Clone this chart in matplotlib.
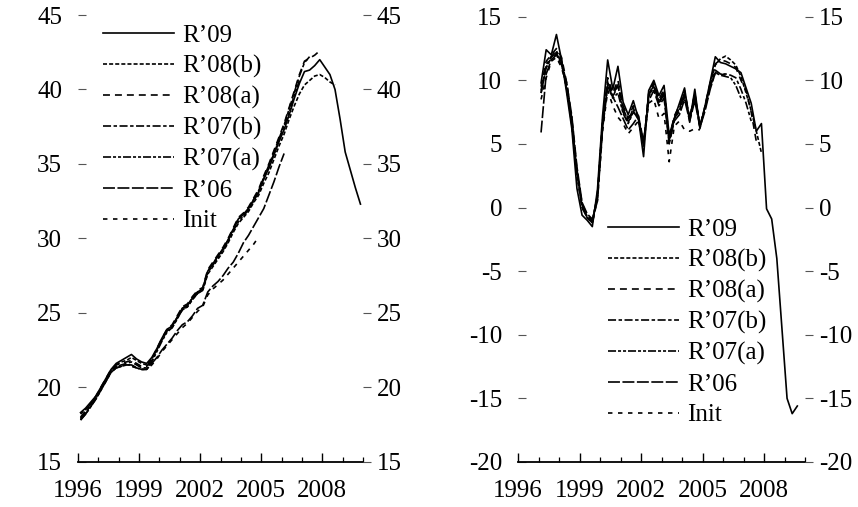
import numpy as np
import matplotlib
matplotlib.use("Agg")
import matplotlib.pyplot as plt

plt.rcParams['font.family'] = ['Liberation Serif', 'DejaVu Serif']
plt.rcParams['axes.unicode_minus'] = False
plt.rcParams['lines.scale_dashes'] = False

labels = ["R\u201909", "R\u201908(b)", "R\u201908(a)", "R\u201907(b)", "R\u201907(a)", "R\u201906", "Init"]

# quarterly series, first quarter of each panel
left_first_quarter = 1996.125
right_first_quarter = 1997.125

# ---- left panel (levels) ----
r09_L = [18.3, 18.6, 19.0, 19.4, 20.0, 20.6, 21.2, 21.6, 21.8, 22.0, 22.2, 21.9, 21.7, 21.6,
         22.0, 22.6, 23.3, 23.9, 24.1, 24.7, 25.3, 25.5, 26.0, 26.4, 26.6, 27.8, 28.3, 28.8,
         29.3, 29.9, 30.6, 31.3, 31.6, 32.0, 32.6, 33.1, 34.0, 34.7, 35.6, 36.5, 37.3, 38.3,
         39.4, 40.4, 41.2, 41.3, 41.6, 42.0, 41.5, 41.0, 40.0, 38.0, 35.8, 34.6, 33.4, 32.3]
r08b_L = [18.2, 18.5, 18.9, 19.3, 19.9, 20.5, 21.1, 21.5, 21.7, 21.8, 22.0, 21.8, 21.6, 21.5,
          21.9, 22.5, 23.2, 23.8, 24.0, 24.6, 25.2, 25.4, 25.9, 26.3, 26.5, 27.6, 28.1, 28.6,
          29.1, 29.7, 30.4, 31.0, 31.4, 31.8, 32.4, 32.9, 33.7, 34.4, 35.3, 36.2, 37.0, 38.0,
          38.9, 39.7, 40.3, 40.6, 40.9, 41.0, 40.8, 40.5, 40.3]
r08a_L = [18.0, 18.4, 18.9, 19.4, 20.0, 20.6, 21.2, 21.5, 21.6, 21.7, 21.8, 21.6, 21.4, 21.4,
          21.9, 22.6, 23.3, 23.9, 24.2, 24.8, 25.4, 25.6, 26.1, 26.5, 26.7, 27.9, 28.4, 28.9,
          29.4, 30.0, 30.7, 31.4, 31.7, 32.1, 32.7, 33.3, 34.2, 35.0, 35.9, 36.8, 37.7, 38.8,
          39.9, 41.0, 41.9, 42.1, 42.3, 42.6]
r07b_L = [17.9, 18.3, 18.8, 19.3, 19.9, 20.5, 21.1, 21.4, 21.5, 21.6, 21.7, 21.5, 21.3, 21.3,
          21.8, 22.5, 23.2, 23.8, 24.1, 24.7, 25.3, 25.5, 26.0, 26.4, 26.6, 27.8, 28.3, 28.8,
          29.3, 29.9, 30.6, 31.3, 31.6, 32.0, 32.6, 33.2, 34.1, 34.9, 35.8, 36.7, 37.6, 38.7,
          39.8, 40.9, 41.8, 42.2]
r07a_L = [17.8, 18.2, 18.7, 19.2, 19.8, 20.4, 21.0, 21.3, 21.4, 21.5, 21.5, 21.3, 21.2, 21.2,
          21.7, 22.4, 23.1, 23.7, 24.0, 24.6, 25.2, 25.4, 25.9, 26.3, 26.5, 27.7, 28.2, 28.7,
          29.2, 29.8, 30.5, 31.1, 31.5, 31.9, 32.5, 33.1, 34.0, 34.8, 35.7, 36.6, 37.5, 38.5,
          39.6, 40.6]
r06_L = [17.8, 18.2, 18.7, 19.2, 19.8, 20.4, 21.0, 21.3, 21.4, 21.5, 21.5, 21.3, 21.2, 21.2,
         21.6, 22.0, 22.5, 22.9, 23.3, 23.8, 24.2, 24.4, 24.8, 25.3, 25.5, 26.4, 26.8, 27.1,
         27.5, 28.0, 28.4, 29.0, 29.7, 30.2, 30.8, 31.4, 32.0, 32.9, 33.8, 34.8, 35.7]
init_L = [17.9, 18.3, 18.8, 19.3, 19.9, 20.5, 21.1, 21.4, 21.5, 21.5, 21.4, 21.3, 21.2, 21.2,
          21.5, 21.9, 22.4, 22.8, 23.2, 23.6, 24.0, 24.3, 24.7, 25.1, 25.4, 26.2, 26.6, 26.9,
          27.2, 27.6, 28.0, 28.4, 28.8, 29.2, 29.6, 30.1]

# ---- right panel (growth rates) ----
r09_R = [9.8, 12.4, 12.0, 13.6, 11.6, 9.0, 6.2, 1.5, -0.6, -1.0, -1.5, 1.4, 7.2, 11.6,
         9.3, 11.1, 8.3, 7.3, 8.4, 7.0, 4.0, 9.2, 10.0, 8.8, 9.6, 5.7, 7.0, 8.2, 9.4, 6.7,
         9.3, 6.2, 8.0, 9.9, 11.85, 11.4, 11.3, 11.1, 10.9, 10.6, 9.4, 8.2, 6.0, 6.6, -0.1,
         -0.9, -4.0, -9.5, -15.0, -16.2, -15.6]
r08b_R = [9.0, 11.0, 11.8, 12.2, 11.3, 9.3, 6.5, 2.5, 0.0, -0.8, -1.2, 1.0, 6.8, 9.8,
          8.7, 9.6, 7.5, 6.7, 7.6, 6.9, 5.0, 8.8, 9.6, 8.2, 9.0, 5.2, 7.0, 7.6, 9.0, 7.0,
          8.8, 6.4, 7.8, 9.8, 11.2, 11.7, 11.9, 11.6, 11.2, 10.3, 9.0, 7.6, 6.0, 4.3]
r08a_R = [9.5, 11.5, 12.0, 12.5, 11.8, 9.8, 7.0, 3.0, 0.3, -0.6, -1.0, 0.8, 6.5, 10.2,
          9.0, 10.0, 8.0, 7.0, 8.0, 7.2, 4.8, 9.0, 9.8, 8.5, 9.3, 5.4, 7.2, 8.0, 9.2, 7.0,
          9.0, 6.3, 8.0, 9.8, 11.3, 11.6, 11.5, 11.3, 11.0, 10.0, 9.2, 7.5, 5.2]
r07b_R = [9.2, 11.2, 11.9, 12.3, 11.6, 9.6, 6.8, 2.8, 0.2, -0.7, -1.1, 0.9, 6.6, 9.9,
          8.8, 9.7, 7.8, 6.8, 7.8, 7.0, 4.9, 8.9, 9.7, 8.3, 9.1, 5.3, 7.1, 7.8, 9.0, 7.0,
          8.9, 6.4, 7.9, 9.6, 10.8, 10.5, 10.5, 10.4, 10.2, 9.3, 8.2, 6.8]
r07a_R = [9.0, 11.0, 11.8, 12.1, 11.4, 9.4, 6.6, 2.6, 0.1, -0.8, -1.2, 0.9, 6.5, 9.6,
          8.6, 9.0, 7.4, 6.6, 7.5, 7.0, 4.8, 8.7, 9.5, 8.2, 8.9, 5.2, 7.0, 7.6, 8.8, 7.0,
          8.7, 6.5, 7.8, 9.5, 10.6, 10.4, 10.3, 10.2, 9.6, 8.6]
r06_R = [5.9, 10.5, 11.6, 12.0, 11.2, 9.8, 7.2, 3.2, 0.4, -0.5, -0.9, 0.5, 6.2, 9.5,
         8.7, 7.9, 7.0, 6.1, 6.6, 7.2, 5.2, 8.4, 9.2, 8.0, 8.6, 5.0, 6.8, 7.3, 8.5, 6.8,
         8.4, 6.3, 7.6, 9.3, 10.6, 10.5, 10.4]
init_R = [8.5, 10.2, 11.5, 11.8, 11.0, 9.5, 6.8, 2.8, 0.0, -0.8, -1.2, 0.6, 6.0, 9.2,
          8.0, 7.1, 6.6, 5.8, 6.3, 6.8, 5.0, 8.2, 8.5, 7.0, 7.4, 3.6, 6.4, 6.8, 6.1, 6.0,
          6.2, 6.1]

left_series = [r09_L, r08b_L, r08a_L, r07b_L, r07a_L, r06_L, init_L]
right_series = [r09_R, r08b_R, r08a_R, r07b_R, r07a_R, r06_R, init_R]

left_yticks = [15, 20, 25, 30, 35, 40, 45]
right_yticks = [-20, -15, -10, -5, 0, 5, 10, 15]
major_years = [1996, 1999, 2002, 2005, 2008]
minor_years = [1997, 1998, 2000, 2001, 2003, 2004, 2006, 2007, 2009, 2010]

line_styles = [
    '-',
    (0, (2.9, 1.5)),
    (0, (5.0, 3.6)),
    (0, (5.8, 1.8, 2.5, 1.8)),
    (0, (5.8, 1.4, 2.2, 1.4, 2.2, 1.4)),
    (0, (8.6, 1.8)),
    (0, (3.2, 4.0)),
]

FS = 18

fig = plt.figure(figsize=(8.58, 5.07), dpi=100)
W, H = 858.0, 507.0
axL = fig.add_axes([78 / W, 1 - 461.7 / H, 285 / W, (461.7 - 15.0) / H])
axR = fig.add_axes([518 / W, 1 - 462.0 / H, 287 / W, (462.0 - 16.7) / H])


def setup(ax, ylim, yticks):
    ax.set_xlim(1996, 2010)
    ax.set_ylim(*ylim)
    for s in ['top', 'left', 'right']:
        ax.spines[s].set_visible(False)
    ax.spines['bottom'].set_linewidth(1.3)
    ax.spines['bottom'].set_color('black')
    ax.set_xticks(major_years)
    ax.set_xticks(minor_years, minor=True)
    ax.set_xticklabels([str(y) for y in major_years])
    ax.tick_params(axis='x', which='major', direction='in', length=6.5, width=1.0,
                   pad=13, labelsize=FS, colors='black')
    ax.tick_params(axis='x', which='minor', direction='in', length=3.5, width=0.9)
    ax.set_yticks(yticks)
    ax.set_yticklabels([str(v) for v in yticks])
    ax.tick_params(axis='y', direction='in', length=6, width=0.8, color='#555555',
                   labelcolor='black', pad=11.5, labelsize=FS)
    tw = ax.twinx()
    tw.set_ylim(*ylim)
    for s in ['top', 'left', 'right', 'bottom']:
        tw.spines[s].set_visible(False)
    tw.set_yticks(yticks)
    tw.set_yticklabels([str(v) for v in yticks])
    tw.tick_params(axis='y', direction='out', length=6, width=0.8, color='#555555',
                   labelcolor='black', pad=4, labelsize=FS)
    return tw


setup(axL, (15, 45), left_yticks)
setup(axR, (-20, 15), right_yticks)

for ax, series, start in [(axL, left_series, left_first_quarter),
                          (axR, right_series, right_first_quarter)]:
    for vals, ls, lab in zip(series, line_styles, labels):
        t = start + 0.25 * np.arange(len(vals))
        ax.plot(t, vals, color='black', linestyle=ls, linewidth=1.2, label=lab)

legend_kw = dict(loc='upper left', frameon=False, fontsize=FS, handlelength=2.85,
                 handletextpad=0.3, labelspacing=0.32, borderpad=0, borderaxespad=0)
axL.legend(bbox_to_anchor=(103 / W, 1 - 24.5 / H), bbox_transform=fig.transFigure, **legend_kw)
axR.legend(bbox_to_anchor=(608 / W, 1 - 218.5 / H), bbox_transform=fig.transFigure, **legend_kw)

fig.savefig('out.png', dpi=100)
